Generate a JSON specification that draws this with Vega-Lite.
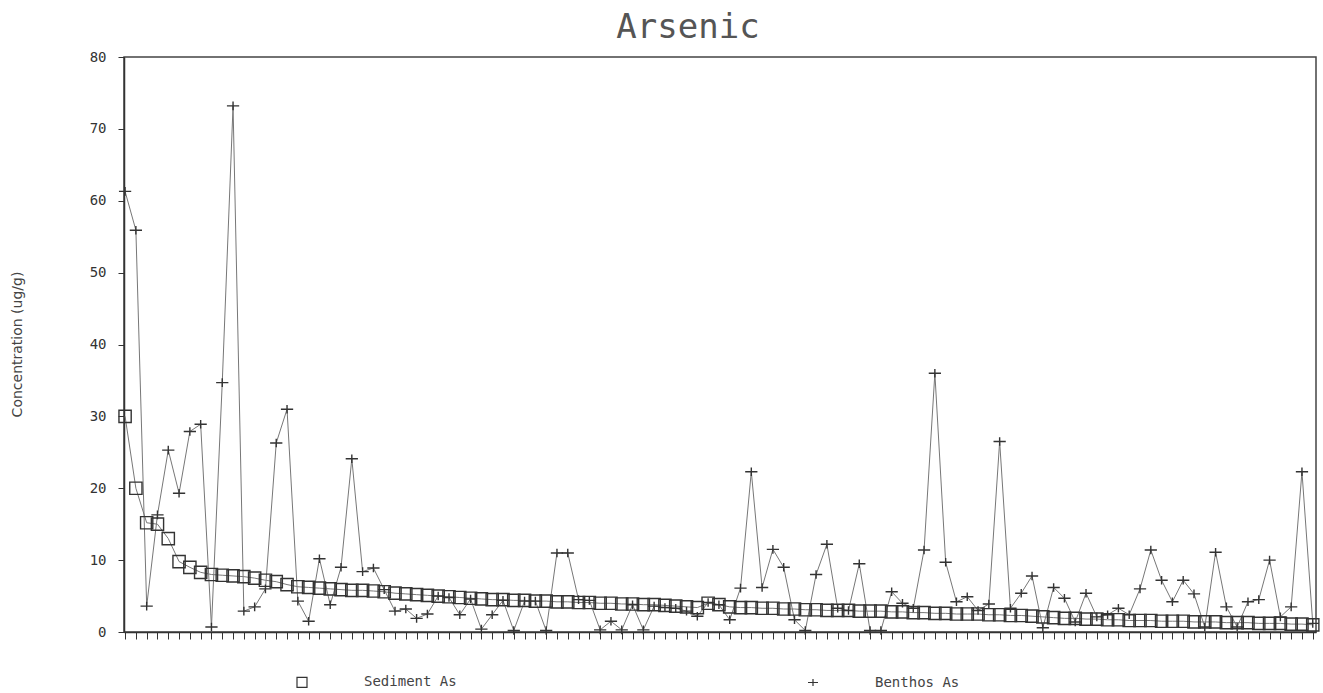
{
  "$schema": "https://vega.github.io/schema/vega-lite/v6.json",
  "width": 1192,
  "height": 575,
  "autosize": {"type": "none"},
  "padding": {"left": 124, "top": 57, "right": 7, "bottom": 61},
  "background": "white",
  "title": {"text": "Arsenic", "font": "DejaVu Sans Mono", "fontSize": 34, "fontWeight": "normal", "color": "#555", "anchor": "middle", "offset": 5, "dx": -32},
  "config": {
    "view": {"stroke": "#444", "strokeWidth": 1.5},
    "axis": {"grid": false, "domainColor": "#333", "tickColor": "#333", "labelFont": "DejaVu Sans Mono", "labelFontSize": 14, "labelColor": "#333", "titleFont": "DejaVu Sans", "titleFontSize": 14, "titleFontWeight": "normal", "titleColor": "#444"}
  },
  "data": {
    "values": [
      {"i":0,"Sediment As":30,"Benthos As":61.3},
      {"i":1,"Sediment As":20,"Benthos As":55.9},
      {"i":2,"Sediment As":15.2,"Benthos As":3.6},
      {"i":3,"Sediment As":15,"Benthos As":16.3},
      {"i":4,"Sediment As":13,"Benthos As":25.3},
      {"i":5,"Sediment As":9.8,"Benthos As":19.3},
      {"i":6,"Sediment As":9,"Benthos As":27.9},
      {"i":7,"Sediment As":8.3,"Benthos As":28.9},
      {"i":8,"Sediment As":8,"Benthos As":0.7},
      {"i":9,"Sediment As":7.9,"Benthos As":34.7},
      {"i":10,"Sediment As":7.8,"Benthos As":73.2},
      {"i":11,"Sediment As":7.7,"Benthos As":2.9},
      {"i":12,"Sediment As":7.5,"Benthos As":3.5},
      {"i":13,"Sediment As":7.2,"Benthos As":6},
      {"i":14,"Sediment As":7.0,"Benthos As":26.3},
      {"i":15,"Sediment As":6.6,"Benthos As":31},
      {"i":16,"Sediment As":6.3,"Benthos As":4.3},
      {"i":17,"Sediment As":6.2,"Benthos As":1.5},
      {"i":18,"Sediment As":6.1,"Benthos As":10.2},
      {"i":19,"Sediment As":6.0,"Benthos As":3.8},
      {"i":20,"Sediment As":5.9,"Benthos As":9},
      {"i":21,"Sediment As":5.8,"Benthos As":24.1},
      {"i":22,"Sediment As":5.8,"Benthos As":8.4},
      {"i":23,"Sediment As":5.7,"Benthos As":8.9},
      {"i":24,"Sediment As":5.6,"Benthos As":5.9},
      {"i":25,"Sediment As":5.4,"Benthos As":2.9},
      {"i":26,"Sediment As":5.3,"Benthos As":3.2},
      {"i":27,"Sediment As":5.2,"Benthos As":1.9},
      {"i":28,"Sediment As":5.1,"Benthos As":2.5},
      {"i":29,"Sediment As":5.0,"Benthos As":5},
      {"i":30,"Sediment As":4.9,"Benthos As":4.8},
      {"i":31,"Sediment As":4.8,"Benthos As":2.4},
      {"i":32,"Sediment As":4.7,"Benthos As":4.6},
      {"i":33,"Sediment As":4.6,"Benthos As":0.4},
      {"i":34,"Sediment As":4.5,"Benthos As":2.4},
      {"i":35,"Sediment As":4.5,"Benthos As":4.4},
      {"i":36,"Sediment As":4.4,"Benthos As":0.2},
      {"i":37,"Sediment As":4.4,"Benthos As":4.3},
      {"i":38,"Sediment As":4.3,"Benthos As":4.3},
      {"i":39,"Sediment As":4.3,"Benthos As":0.2},
      {"i":40,"Sediment As":4.2,"Benthos As":11},
      {"i":41,"Sediment As":4.2,"Benthos As":11},
      {"i":42,"Sediment As":4.1,"Benthos As":4.5},
      {"i":43,"Sediment As":4.1,"Benthos As":4.4},
      {"i":44,"Sediment As":4.0,"Benthos As":0.3},
      {"i":45,"Sediment As":4.0,"Benthos As":1.5},
      {"i":46,"Sediment As":3.9,"Benthos As":0.3},
      {"i":47,"Sediment As":3.9,"Benthos As":3.8},
      {"i":48,"Sediment As":3.8,"Benthos As":0.3},
      {"i":49,"Sediment As":3.8,"Benthos As":3.6},
      {"i":50,"Sediment As":3.7,"Benthos As":3.4},
      {"i":51,"Sediment As":3.6,"Benthos As":3.3},
      {"i":52,"Sediment As":3.5,"Benthos As":2.9},
      {"i":53,"Sediment As":3.4,"Benthos As":2.2},
      {"i":54,"Sediment As":4.0,"Benthos As":4.1},
      {"i":55,"Sediment As":3.8,"Benthos As":3.8},
      {"i":56,"Sediment As":3.5,"Benthos As":1.7},
      {"i":57,"Sediment As":3.4,"Benthos As":6.1},
      {"i":58,"Sediment As":3.4,"Benthos As":22.3},
      {"i":59,"Sediment As":3.3,"Benthos As":6.2},
      {"i":60,"Sediment As":3.3,"Benthos As":11.5},
      {"i":61,"Sediment As":3.2,"Benthos As":9},
      {"i":62,"Sediment As":3.2,"Benthos As":1.7},
      {"i":63,"Sediment As":3.1,"Benthos As":0.2},
      {"i":64,"Sediment As":3.1,"Benthos As":8},
      {"i":65,"Sediment As":3.0,"Benthos As":12.2},
      {"i":66,"Sediment As":3.0,"Benthos As":3.3},
      {"i":67,"Sediment As":3.0,"Benthos As":3},
      {"i":68,"Sediment As":2.9,"Benthos As":9.5},
      {"i":69,"Sediment As":2.9,"Benthos As":0.2},
      {"i":70,"Sediment As":2.9,"Benthos As":0.2},
      {"i":71,"Sediment As":2.8,"Benthos As":5.6},
      {"i":72,"Sediment As":2.8,"Benthos As":4},
      {"i":73,"Sediment As":2.7,"Benthos As":3.3},
      {"i":74,"Sediment As":2.7,"Benthos As":11.4},
      {"i":75,"Sediment As":2.6,"Benthos As":36},
      {"i":76,"Sediment As":2.6,"Benthos As":9.7},
      {"i":77,"Sediment As":2.5,"Benthos As":4.2},
      {"i":78,"Sediment As":2.5,"Benthos As":4.9},
      {"i":79,"Sediment As":2.5,"Benthos As":3},
      {"i":80,"Sediment As":2.4,"Benthos As":3.9},
      {"i":81,"Sediment As":2.4,"Benthos As":26.5},
      {"i":82,"Sediment As":2.3,"Benthos As":3.3},
      {"i":83,"Sediment As":2.3,"Benthos As":5.4},
      {"i":84,"Sediment As":2.2,"Benthos As":7.8},
      {"i":85,"Sediment As":2.1,"Benthos As":0.6},
      {"i":86,"Sediment As":2.0,"Benthos As":6.2},
      {"i":87,"Sediment As":1.9,"Benthos As":4.7},
      {"i":88,"Sediment As":1.9,"Benthos As":1.4},
      {"i":89,"Sediment As":1.8,"Benthos As":5.4},
      {"i":90,"Sediment As":1.8,"Benthos As":2.1},
      {"i":91,"Sediment As":1.7,"Benthos As":2.4},
      {"i":92,"Sediment As":1.7,"Benthos As":3.3},
      {"i":93,"Sediment As":1.6,"Benthos As":2.4},
      {"i":94,"Sediment As":1.6,"Benthos As":6},
      {"i":95,"Sediment As":1.6,"Benthos As":11.4},
      {"i":96,"Sediment As":1.5,"Benthos As":7.2},
      {"i":97,"Sediment As":1.5,"Benthos As":4.2},
      {"i":98,"Sediment As":1.5,"Benthos As":7.2},
      {"i":99,"Sediment As":1.4,"Benthos As":5.3},
      {"i":100,"Sediment As":1.4,"Benthos As":0.7},
      {"i":101,"Sediment As":1.4,"Benthos As":11.1},
      {"i":102,"Sediment As":1.3,"Benthos As":3.5},
      {"i":103,"Sediment As":1.3,"Benthos As":0.7},
      {"i":104,"Sediment As":1.3,"Benthos As":4.2},
      {"i":105,"Sediment As":1.2,"Benthos As":4.5},
      {"i":106,"Sediment As":1.2,"Benthos As":10},
      {"i":107,"Sediment As":1.2,"Benthos As":2.1},
      {"i":108,"Sediment As":1.1,"Benthos As":3.5},
      {"i":109,"Sediment As":1.1,"Benthos As":22.3},
      {"i":110,"Sediment As":1.0,"Benthos As":1.2}
    ]
  },
  "transform": [{"fold": ["Sediment As", "Benthos As"], "as": ["series", "value"]}],
  "encoding": {
    "x": {
      "field": "i", "type": "quantitative",
      "scale": {"domain": [-0.1, 110.3], "nice": false, "zero": false},
      "axis": {"title": null, "labels": false, "tickCount": 111, "tickSize": 7, "domainWidth": 1.5}
    },
    "y": {
      "field": "value", "type": "quantitative",
      "scale": {"domain": [0, 80], "nice": false},
      "axis": {"title": "Concentration (ug/g)", "values": [0,10,20,30,40,50,60,70,80], "tickSize": 6, "labelPadding": 12, "titleX": -100, "titleY": 287, "titleAngle": -90, "titleAlign": "center", "titleBaseline": "bottom", "domainWidth": 1.5}
    }
  },
  "layer": [
    {
      "mark": {"type": "line", "strokeWidth": 1, "color": "#777"},
      "encoding": {"detail": {"field": "series"}}
    },
    {
      "mark": {"type": "point", "filled": false, "strokeWidth": 1.4, "opacity": 1, "color": "#333"},
      "encoding": {
        "shape": {
          "field": "series", "type": "nominal",
          "scale": {"domain": ["Sediment As", "Benthos As"], "range": ["square", "M-1,0H1M0,-0.7V0.7"]},
          "legend": {"title": null, "orient": "none", "legendX": 171, "legendY": 618, "direction": "horizontal", "labelFont": "DejaVu Sans Mono", "labelFontSize": 14, "labelColor": "#444", "labelOffset": 55, "columnPadding": 348, "symbolSize": 100, "symbolStrokeColor": "#333", "symbolStrokeWidth": 1.2}
        },
        "size": {"value": 150}
      }
    }
  ]
}
